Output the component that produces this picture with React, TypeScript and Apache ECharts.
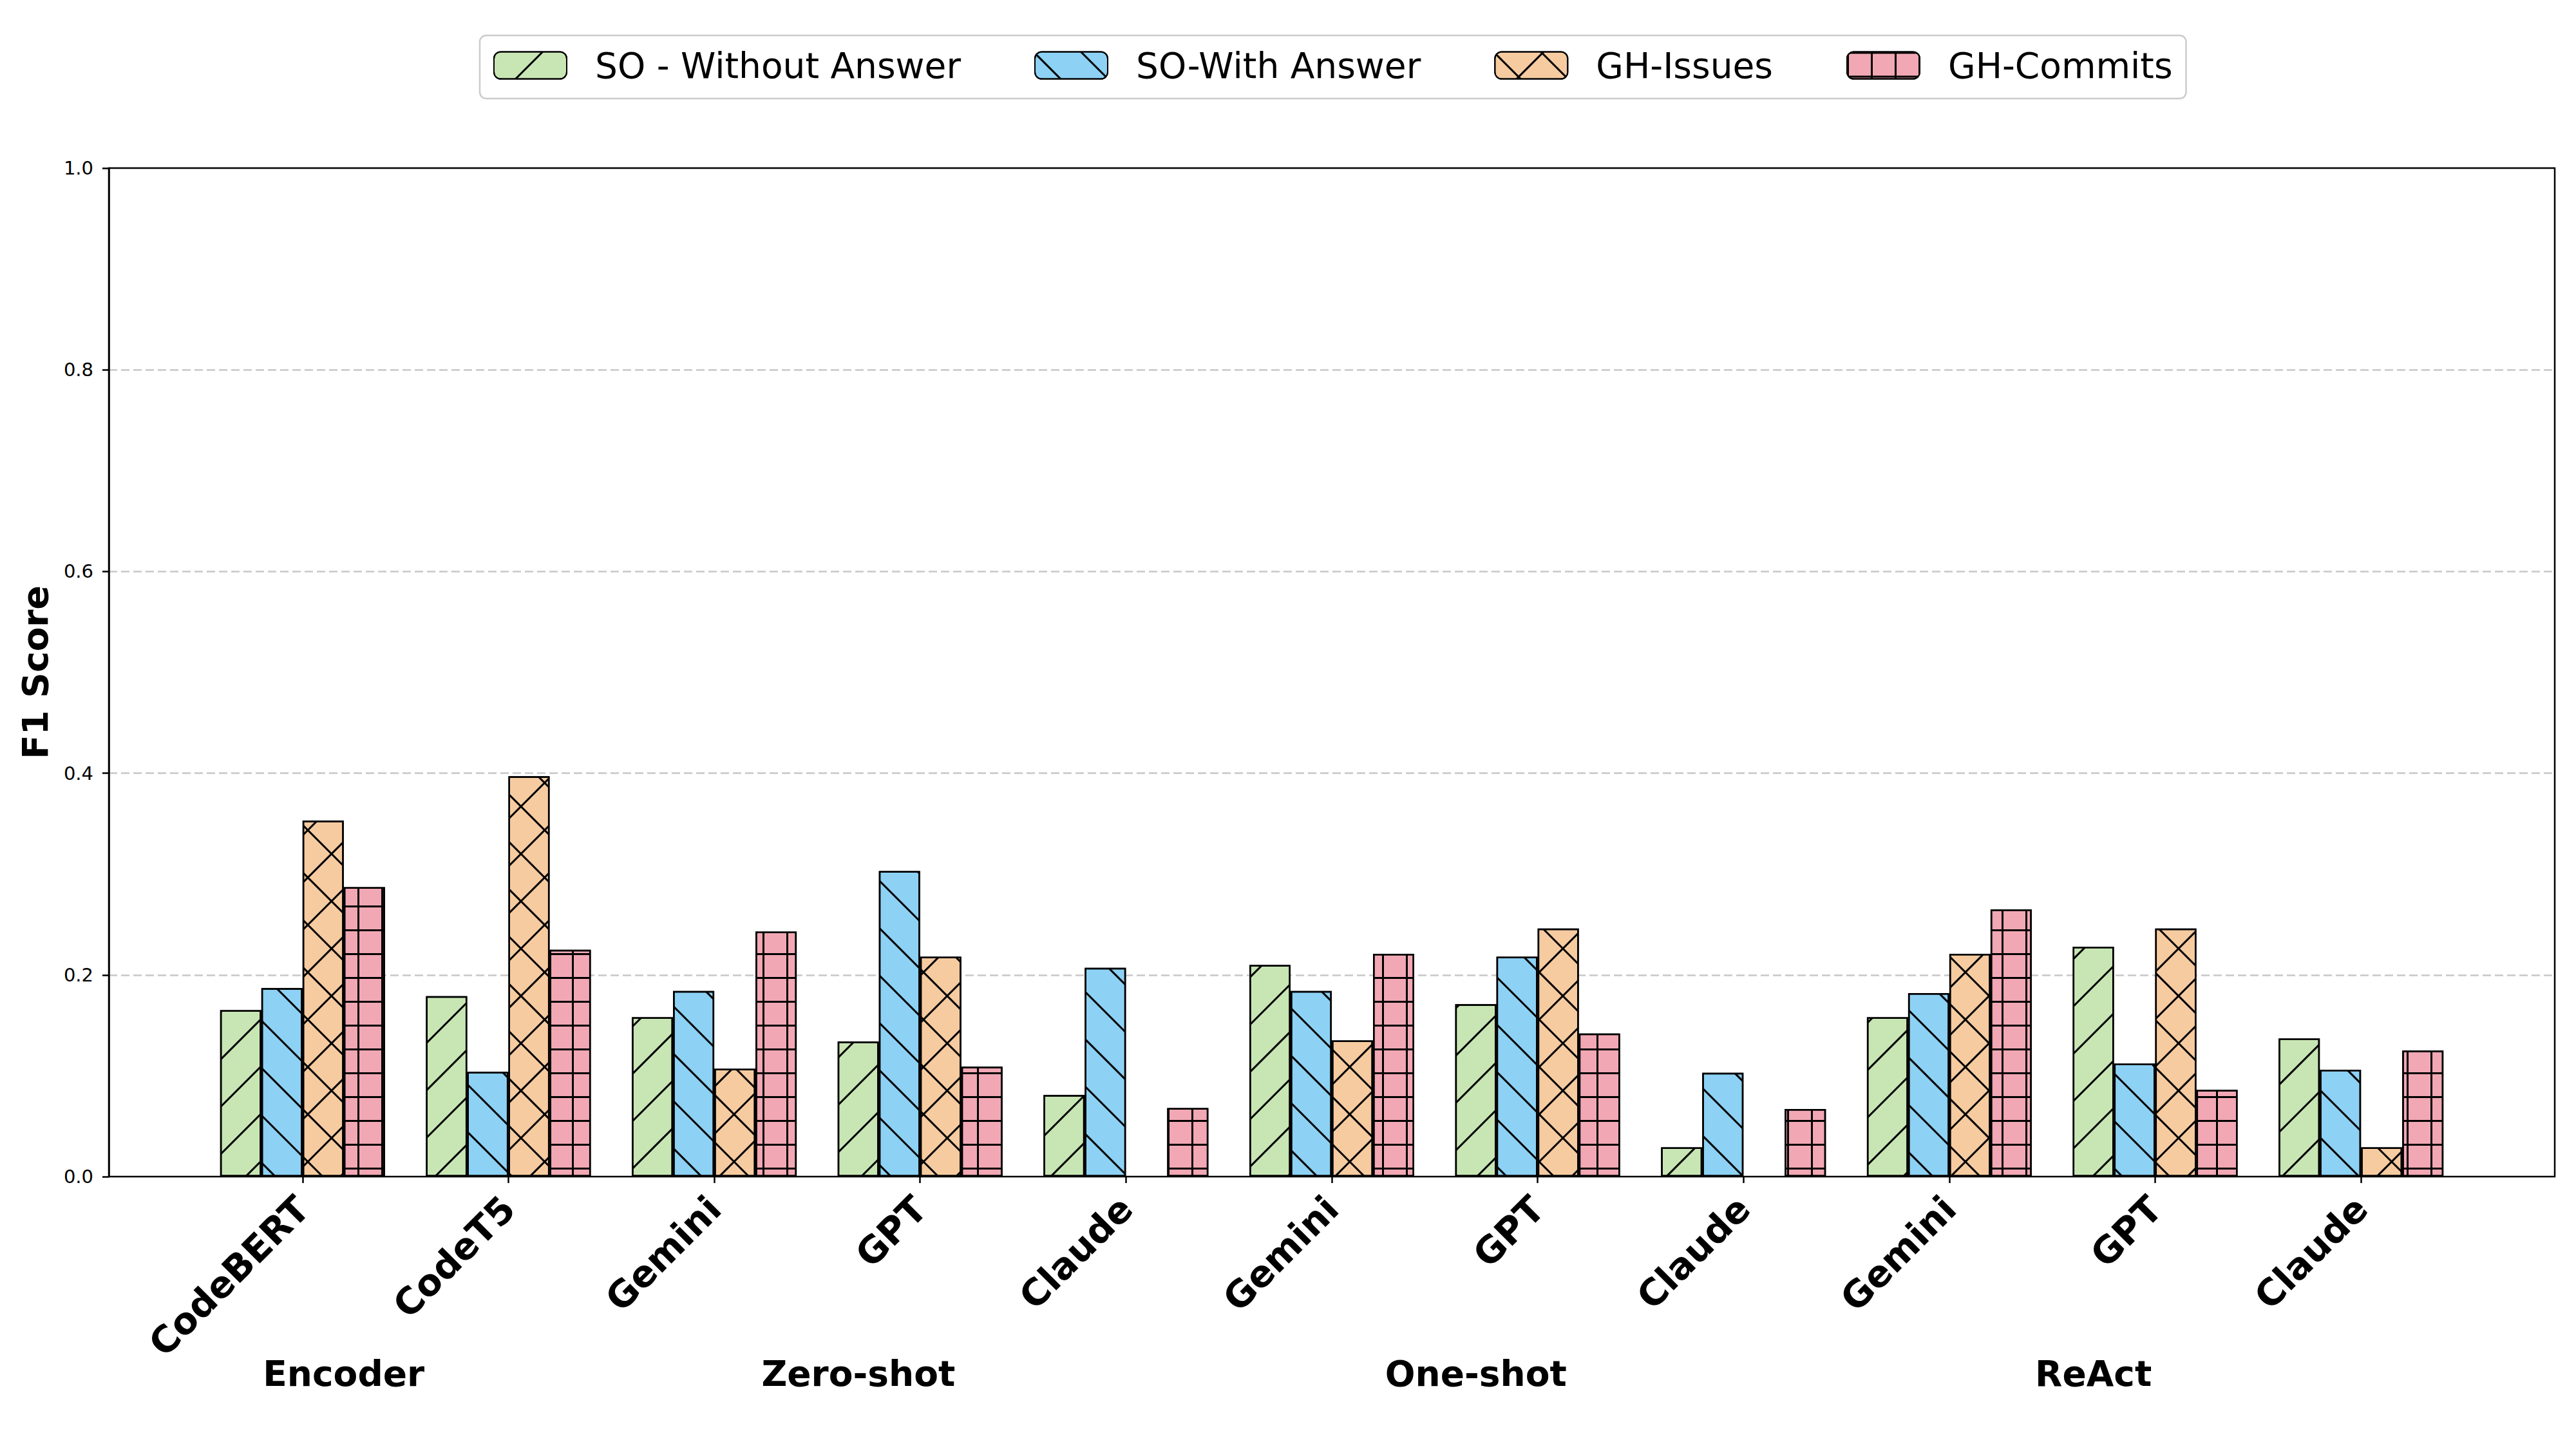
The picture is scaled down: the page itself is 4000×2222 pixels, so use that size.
import React, { useEffect, useRef } from 'react';
import * as echarts from 'echarts';

const models = ['CodeBERT', 'CodeT5', 'Gemini', 'GPT', 'Claude', 'Gemini', 'GPT', 'Claude', 'Gemini', 'GPT', 'Claude'];
const seriesNames = ['SO - Without Answer', 'SO-With Answer', 'GH-Issues', 'GH-Commits'];
const soWithout = [0.165, 0.179, 0.158, 0.134, 0.081, 0.210, 0.171, 0.029, 0.158, 0.228, 0.137];
const soWith = [0.187, 0.104, 0.184, 0.303, 0.207, 0.184, 0.218, 0.103, 0.182, 0.112, 0.106];
const ghIssues = [0.353, 0.397, 0.107, 0.218, null, 0.135, 0.246, null, 0.221, 0.246, 0.029];
const ghCommits = [0.287, 0.225, 0.243, 0.109, 0.068, 0.221, 0.142, 0.067, 0.265, 0.086, 0.125];
const groupLabels = ['Encoder', 'Zero-shot', 'One-shot', 'ReAct'];
const groupCenters = [0.5, 3, 6, 9];
const yMin = 0;
const yMax = 1;
const yStep = 0.2;

const colors = ['#c8e6b4', '#8dd1f4', '#f6cba0', '#f1a8b4'];
const FONT = 'DejaVu Sans';

// grid-cell symbol: a top bar and a left bar, tiled gives a lattice of lines
const gridCell = (n: number, w: number) => `path://M0,0H${n}V${w}H0Z M0,0H${w}V${n}H0Z`;

const decals: any[] = [
  { symbol: 'rect', symbolSize: 1, color: '#000', dashArrayX: [52, 0], dashArrayY: [3, 49], rotation: -Math.PI / 4 },
  { symbol: 'rect', symbolSize: 1, color: '#000', dashArrayX: [52, 0], dashArrayY: [3, 49], rotation: Math.PI / 4 },
  { symbol: gridCell(52, 3), symbolSize: 1, symbolKeepAspect: false, color: '#000', dashArrayX: [52, 0], dashArrayY: [52, 0], rotation: Math.PI / 4 },
  { symbol: gridCell(37, 3), symbolSize: 1, symbolKeepAspect: false, color: '#000', dashArrayX: [37, 0], dashArrayY: [37, 0], rotation: 0 },
];

export default function App() {
  const ref = useRef<HTMLDivElement>(null);
  useEffect(() => {
    const chart = echarts.init(ref.current!, null, { renderer: 'svg', width: 4000, height: 2222 });
    const values = [soWithout, soWith, ghIssues, ghCommits];
    const option: any = {
      animation: false,
      backgroundColor: '#fff',
      textStyle: { fontFamily: FONT },
      legend: {
        data: seriesNames,
        left: 745,
        top: 55,
        orient: 'horizontal',
        itemWidth: 113,
        itemHeight: 42,
        itemGap: 114,
        padding: [19, 21, 24, 21],
        borderColor: '#cccccc',
        borderWidth: 2.5,
        borderRadius: 10,
        backgroundColor: '#fff',
        selectedMode: false,
        textStyle: { fontSize: 55, color: '#000', fontFamily: FONT, padding: [0, 0, 0, 39] },
      },
      grid: [
        { left: 310, width: 3516, top: 261, bottom: 395 },
        { left: 169, right: 33, top: 261, bottom: 395, show: true, borderColor: '#000', borderWidth: 2.5, backgroundColor: 'transparent' },
      ],
      xAxis: [
        {
          gridIndex: 0,
          type: 'category',
          data: models,
          axisLine: { show: false },
          axisTick: { show: true, alignWithLabel: true, length: 10, lineStyle: { color: '#000', width: 2.5 } },
          axisLabel: {
            interval: 0,
            rotate: 45,
            margin: 40,
            fontSize: 57,
            fontWeight: 'bold',
            color: '#000',
            fontFamily: FONT,
            padding: [0, 0, 86, 0],
            formatter: (_v: string, i: number) => models[i],
          },
          splitLine: { show: false },
        },
        { gridIndex: 1, type: 'value', min: 0, max: 1, show: false },
      ],
      yAxis: [
        { gridIndex: 0, type: 'value', min: yMin, max: yMax, show: false, splitLine: { show: false } },
        {
          gridIndex: 1,
          type: 'value',
          min: yMin,
          max: yMax,
          interval: yStep,
          axisLine: { show: true, lineStyle: { color: '#000', width: 2.5 } },
          axisTick: { show: true, length: 10, lineStyle: { color: '#000', width: 2.5 } },
          axisLabel: { formatter: (v: number) => v.toFixed(1), fontSize: 29, color: '#000', margin: 24, fontFamily: FONT },
          splitLine: { show: true, showMinLine: false, showMaxLine: false, lineStyle: { type: [13, 6], color: '#c8c8c8', width: 2.5 } },
          name: 'F1 Score',
          nameLocation: 'middle',
          nameGap: 87,
          nameTextStyle: { fontSize: 55, fontWeight: 'bold', color: '#000', fontFamily: FONT },
        },
      ],
      series: seriesNames.map((name, k) => ({
        type: 'bar',
        name,
        xAxisIndex: 0,
        yAxisIndex: 0,
        data: values[k],
        barWidth: 64,
        barGap: '0%',
        itemStyle: { color: colors[k], borderColor: '#000', borderWidth: 2.5, decal: decals[k] },
      })),
    };
    chart.setOption(option);
    const x0 = chart.convertToPixel({ xAxisIndex: 0 }, 0) as number;
    const x1 = chart.convertToPixel({ xAxisIndex: 0 }, 1) as number;
    const band = x1 - x0;
    const yBase = chart.convertToPixel({ yAxisIndex: 1 }, 0) as number;
    chart.setOption({
      graphic: groupLabels.map((t, i) => ({
        type: 'text',
        x: x0 + (groupCenters[i] - 0.3) * band,
        y: yBase + 306,
        style: { text: t, fontSize: 55, fontWeight: 'bold', fill: '#000', fontFamily: FONT, align: 'center', verticalAlign: 'middle' },
      })),
    });
    return () => chart.dispose();
  }, []);
  return <div ref={ref} style={{ position: 'fixed', left: 0, top: 0, width: 4000, height: 2222 }} />;
}
